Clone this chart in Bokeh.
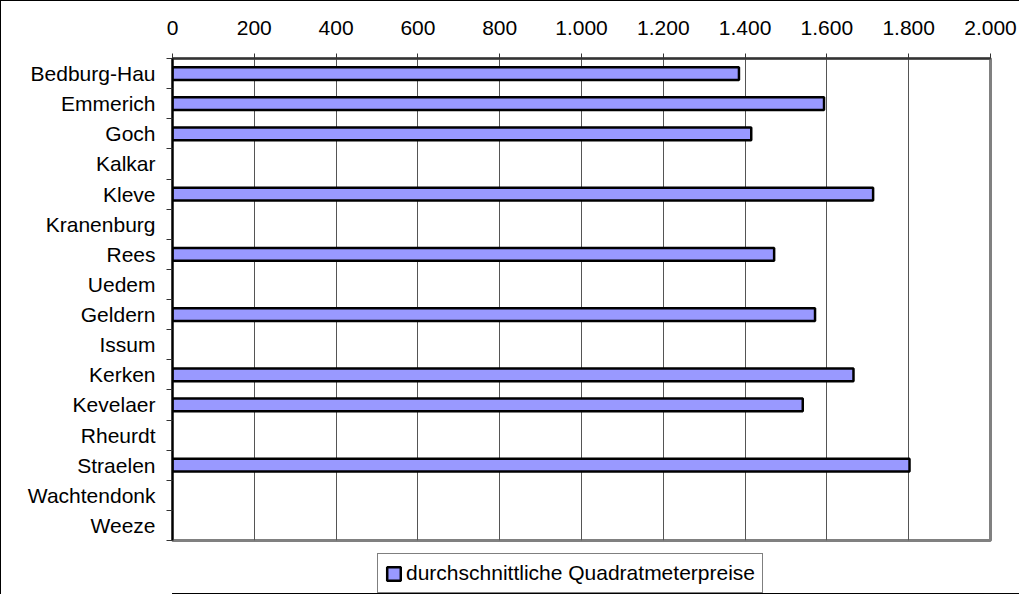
from bokeh.plotting import figure
from bokeh.layouts import column
from bokeh.models import Range1d, FixedTicker, ColumnDataSource
from bokeh.embed import file_html
from bokeh.resources import INLINE

# ---- data ----
orte = ["Bedburg-Hau", "Emmerich", "Goch", "Kalkar", "Kleve", "Kranenburg", "Rees",
        "Uedem", "Geldern", "Issum", "Kerken", "Kevelaer", "Rheurdt", "Straelen",
        "Wachtendonk", "Weeze"]
preise = [1385, 1593, 1415, None, 1713, None, 1471, None, 1571, None, 1665, 1541,
          None, 1802, None, None]
x_ticks = [0, 200, 400, 600, 800, 1000, 1200, 1400, 1600, 1800, 2000]
x_tick_labels = ["0", "200", "400", "600", "800", "1.000", "1.200", "1.400",
                 "1.600", "1.800", "2.000"]
series_name = "durchschnittliche Quadratmeterpreise"

FONT = "Liberation Sans"
FS = "21px"
BAR_FILL = "#9999FF"

n = len(orte)
centers = [i + 0.5 for i in range(n)]
bounds = [float(i) for i in range(n + 1)]

ys = [centers[i] for i, v in enumerate(preise) if v is not None]
xs = [v for v in preise if v is not None]
src = ColumnDataSource(dict(y=ys, right=xs))

p = figure(frame_width=817, frame_height=481, output_backend="svg", toolbar_location=None,
           x_range=Range1d(0, 2000), y_range=Range1d(n, 0),
           x_axis_location="above",
           min_border_left=171, min_border_right=30, min_border_top=57,
           min_border_bottom=14)
p.styles = {"border-left": "1px solid black", "border-top": "1px solid black"}

p.hbar(y="y", right="right", left=0, height=0.42, source=src,
       fill_color=BAR_FILL, line_color="black", line_width=2.5)

# x axis (top)
xa = p.xaxis[0]
xa.ticker = FixedTicker(ticks=x_ticks)
xa.major_label_overrides = {t: l for t, l in zip(x_ticks, x_tick_labels)}
xa.major_label_text_font = FONT
xa.major_label_text_font_size = FS
xa.major_label_text_color = "black"
xa.major_tick_out = 5
xa.major_tick_in = 0
xa.minor_tick_out = 0
xa.minor_tick_in = 0
xa.major_label_standoff = 19
xa.axis_line_color = "#333333"
xa.axis_line_width = 2
xa.major_tick_line_color = "#333333"

# y axis (left)
ya = p.yaxis[0]
ya.ticker = FixedTicker(ticks=centers, minor_ticks=bounds)
ya.major_label_overrides = {c: o for c, o in zip(centers, orte)}
ya.major_label_text_font = FONT
ya.major_label_text_font_size = FS
ya.major_label_text_color = "black"
ya.major_tick_out = 0
ya.major_tick_in = 0
ya.minor_tick_out = 6
ya.minor_tick_in = 0
ya.minor_tick_line_color = "#333333"
ya.major_label_standoff = 11
ya.axis_line_color = "black"
ya.axis_line_width = 2

# grid
p.xgrid.ticker = FixedTicker(ticks=x_ticks)
p.xgrid.grid_line_color = "#555555"
p.xgrid.grid_line_width = 1
p.ygrid.grid_line_color = None

p.outline_line_color = "#808080"
p.outline_line_width = 3
p.background_fill_color = "white"
p.border_fill_color = "white"

# legend strip below the chart (same series, its bars lie outside this strip's view)
lp = figure(frame_width=1018, frame_height=41, output_backend="svg",
            toolbar_location=None, min_border=0,
            x_range=Range1d(0, 2000), y_range=Range1d(100, 101))
lp.styles = {"border-left": "1px solid black"}
lp.axis.visible = False
lp.grid.visible = False
lp.outline_line_color = None
lp.background_fill_color = "white"
lp.border_fill_color = "white"
lp.hbar(y="y", right="right", left=0, height=0.42, source=src,
        fill_color=BAR_FILL, line_color="black", line_width=2.5,
        legend_label=series_name)
lg = lp.legend[0]
lg.location = (376, 1)
lg.label_text_font = FONT
lg.label_text_font_size = FS
lg.label_text_color = "black"
lg.border_line_color = "black"
lg.border_line_width = 1
lg.padding = 7
lg.margin = 0
lg.glyph_width = 17
lg.glyph_height = 17
lg.label_standoff = 4
lg.label_height = 20
lg.background_fill_alpha = 1.0

layout = column(p, lp, spacing=0)
open("out.html", "w").write(file_html(layout, INLINE))
